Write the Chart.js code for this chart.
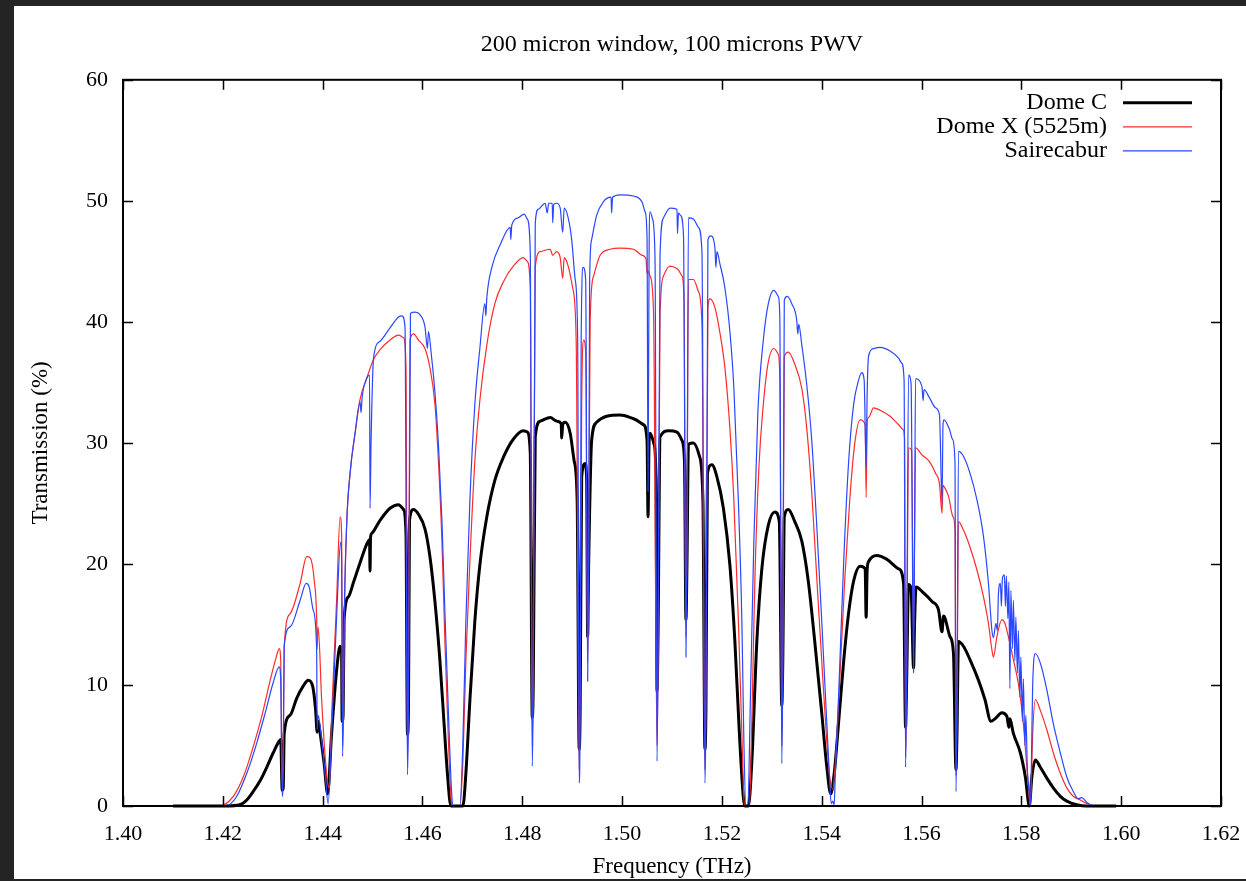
<!DOCTYPE html>
<html>
<head>
<meta charset="utf-8">
<script src="https://cdn.jsdelivr.net/npm/chart.js@4.4.1/dist/chart.umd.min.js"></script>
<style>
  html, body { margin: 0; padding: 0; background: #242424; }
  #sheet { position: absolute; left: 14px; top: 6px; width: 1232px; height: 873px; background: #fff; }
  canvas { display: block; }
</style>
</head>
<body>
<div id="sheet"><canvas id="chart" width="1232" height="873"></canvas></div>
<script>
// values: frequency (THz) and transmission (%)
let domeCFreq = [
  1.4100,1.4208,1.4234,1.4248,1.4261,1.4275,1.4288,1.4301,1.4312,1.4316,
  1.4319,1.4321,1.4323,1.4335,1.4348,1.4361,1.4371,1.4380,1.4386,1.4389,
  1.4391,1.4395,1.4403,1.4410,1.4418,1.4428,1.4435,1.4438,1.4439,1.4441,
  1.4443,1.4452,1.4462,1.4475,1.4488,1.4494,1.4495,1.4496,1.4498,1.4515,
  1.4535,1.4552,1.4562,1.4567,1.4570,1.4572,1.4574,1.4582,1.4592,1.4605,
  1.4615,1.4625,1.4635,1.4643,1.4650,1.4657,1.4681,1.4687,1.4695,1.4705,
  1.4715,1.4729,1.4745,1.4762,1.4782,1.4802,1.4810,1.4816,1.4820,1.4822,
  1.4826,1.4836,1.4856,1.4869,1.4878,1.4879,1.4881,1.4886,1.4896,1.4904,
  1.4910,1.4914,1.4916,1.4919,1.4926,1.4929,1.4931,1.4933,1.4939,1.4949,
  1.4969,1.4996,1.5023,1.5043,1.5050,1.5052,1.5054,1.5056,1.5064,1.5068,
  1.5070,1.5072,1.5076,1.5093,1.5110,1.5120,1.5125,1.5128,1.5130,1.5133,
  1.5143,1.5155,1.5162,1.5166,1.5168,1.5171,1.5180,1.5190,1.5203,1.5216,
  1.5226,1.5235,1.5243,1.5246,1.5253,1.5260,1.5270,1.5280,1.5293,1.5306,
  1.5315,1.5320,1.5322,1.5325,1.5333,1.5346,1.5360,1.5373,1.5386,1.5400,
  1.5410,1.5418,1.5425,1.5434,1.5444,1.5454,1.5464,1.5477,1.5487,1.5489,
  1.5491,1.5494,1.5510,1.5530,1.5554,1.5564,1.5568,1.5570,1.5574,1.5579,
  1.5584,1.5586,1.5589,1.5604,1.5621,1.5634,1.5641,1.5644,1.5657,1.5664,
  1.5669,1.5671,1.5674,1.5684,1.5697,1.5714,1.5727,1.5739,1.5747,1.5761,
  1.5771,1.5775,1.5777,1.5784,1.5798,1.5808,1.5816,1.5821,1.5828,1.5838,
  1.5851,1.5864,1.5878,1.5891,1.5911,1.5931,1.5990
];
let domeCTrans = [
  0,0,0.1,0.5,1.2,2.1,3.2,4.4,5.3,5.5,
  1.3,1.5,6.0,7.5,8.9,9.9,10.4,9.9,7.9,6.1,
  7.0,6.0,3.5,1.0,6.0,11.2,13.2,12.8,7.0,7.5,
  15.4,17.3,18.5,20.1,21.6,22.0,19.4,22.2,22.5,23.6,
  24.6,24.9,24.5,22.5,5.9,8.0,23.6,24.5,24.1,22.9,
  20.6,16.9,12.0,7.0,2.7,0,0,2.7,8.7,15.3,
  19.9,23.9,26.9,28.8,30.3,31.0,30.9,29.2,7.3,10.0,
  30.5,31.8,32.1,31.8,31.6,30.4,31.5,31.7,30.8,28.5,
  25.2,4.7,8.0,27.2,28.3,27.0,14.0,20.0,30.2,31.7,
  32.2,32.3,32.0,31.5,30.2,23.9,30.0,30.8,29.9,27.0,
  9.5,14.0,30.5,31.0,30.9,30.2,28.5,15.4,20.0,29.9,
  30.0,28.9,25.2,4.7,8.0,27.5,28.2,27.2,24.6,19.9,
  13.6,6.0,0.7,0,0,3.7,13.6,19.6,23.2,24.3,
  23.5,8.3,12.0,23.9,24.5,23.5,21.9,18.6,13.6,7.7,
  3.3,1.0,2.7,7.0,12.0,16.0,18.6,19.8,19.6,15.6,
  19.5,20.2,20.7,20.4,19.6,18.4,6.5,10.0,18.3,18.0,
  11.4,15.0,18.1,17.6,16.9,16.2,14.4,15.7,14.0,12.6,
  3.0,6.0,13.6,13.2,12.1,10.4,8.8,7.0,7.2,7.7,
  7.4,6.5,7.2,6.0,4.4,2.4,0,2.4,3.8,3.2,
  2.3,1.5,0.8,0.4,0.1,0,0
];

let domeXFreq = [
  1.4195,1.4201,1.4221,1.4241,1.4261,1.4278,1.4295,1.4307,1.4313,1.4316,
  1.4319,1.4321,1.4323,1.4335,1.4355,1.4368,1.4375,1.4383,1.4388,1.4389,
  1.4391,1.4398,1.4405,1.4410,1.4413,1.4418,1.4428,1.4435,1.4438,1.4440,
  1.4442,1.4443,1.4448,1.4455,1.4465,1.4475,1.4488,1.4502,1.4515,1.4535,
  1.4552,1.4562,1.4567,1.4570,1.4572,1.4575,1.4582,1.4592,1.4605,1.4615,
  1.4625,1.4632,1.4639,1.4645,1.4652,1.4657,1.4660,1.4675,1.4681,1.4687,
  1.4695,1.4705,1.4715,1.4729,1.4745,1.4762,1.4782,1.4802,1.4810,1.4816,
  1.4820,1.4822,1.4826,1.4836,1.4856,1.4861,1.4869,1.4876,1.4881,1.4884,
  1.4892,1.4901,1.4908,1.4914,1.4916,1.4919,1.4923,1.4927,1.4931,1.4933,
  1.4936,1.4943,1.4956,1.4976,1.4996,1.5023,1.5040,1.5048,1.5050,1.5052,
  1.5056,1.5063,1.5070,1.5072,1.5076,1.5083,1.5096,1.5110,1.5120,1.5124,
  1.5128,1.5130,1.5133,1.5143,1.5153,1.5160,1.5166,1.5168,1.5172,1.5176,
  1.5186,1.5196,1.5206,1.5216,1.5224,1.5233,1.5240,1.5245,1.5255,1.5260,
  1.5266,1.5274,1.5283,1.5293,1.5304,1.5313,1.5316,1.5320,1.5322,1.5325,
  1.5333,1.5346,1.5360,1.5370,1.5380,1.5390,1.5400,1.5410,1.5416,1.5422,
  1.5428,1.5436,1.5446,1.5456,1.5466,1.5477,1.5487,1.5489,1.5491,1.5494,
  1.5504,1.5517,1.5537,1.5554,1.5563,1.5566,1.5568,1.5570,1.5574,1.5580,
  1.5584,1.5586,1.5588,1.5601,1.5615,1.5628,1.5636,1.5641,1.5643,1.5645,
  1.5654,1.5663,1.5667,1.5669,1.5671,1.5674,1.5684,1.5697,1.5711,1.5724,
  1.5734,1.5741,1.5744,1.5751,1.5761,1.5767,1.5774,1.5784,1.5794,1.5804,
  1.5812,1.5818,1.5823,1.5828,1.5838,1.5851,1.5864,1.5878,1.5891,1.5904,
  1.5918,1.5931,1.5945,1.5960
];
let domeXTrans = [
  0,0.05,0.8,2.4,4.9,7.4,10.4,12.3,13.0,12.0,
  1.5,4.0,13.2,15.9,18.4,20.6,20.5,18.7,15.5,13.0,
  14.8,8.8,4.1,1.9,1.5,7.4,17.0,23.9,22.5,5.0,
  10.0,14.3,23.1,27.5,30.8,33.6,35.3,36.9,37.7,38.5,
  38.9,38.7,36.3,4.0,10.0,38.5,39.0,38.5,37.8,36.2,
  33.2,28.5,21.9,13.6,5.4,0.7,0,0,3.7,12.0,
  20.2,28.5,33.5,38.1,41.5,43.3,44.6,45.3,45.0,42.8,
  5.0,12.0,44.5,45.8,46.0,45.5,45.8,45.3,43.6,45.3,
  44.6,42.8,38.5,3.0,10.0,33.0,38.5,37.6,12.0,20.0,
  40.1,43.8,45.5,46.0,46.1,46.0,45.5,45.2,44.0,44.2,
  43.8,40.8,5.0,12.0,40.5,43.8,44.6,44.4,43.8,42.0,
  14.0,22.0,43.5,43.5,42.5,39.8,3.0,10.0,41.2,41.9,
  41.2,39.1,36.2,31.2,25.2,15.3,6.0,0,0,7.0,
  18.6,27.9,33.2,36.7,37.8,37.3,35.2,5.0,12.0,37.1,
  37.5,36.5,34.5,31.2,25.9,18.9,12.0,5.4,2.4,1.4,
  4.0,10.3,18.6,25.2,29.9,31.9,31.5,25.5,31.8,32.1,
  32.9,32.7,32.2,31.5,31.1,30.3,4.0,10.0,29.6,29.4,
  14.0,22.0,29.6,29.0,28.5,27.5,26.6,24.2,26.5,26.4,
  25.6,23.9,22.8,2.5,8.0,23.5,22.8,21.4,19.5,17.3,
  15.1,12.9,12.3,14.0,15.4,15.1,14.0,12.1,10.1,6.8,
  2.7,0,6.3,8.8,7.9,6.3,4.4,2.7,1.5,0.8,
  0.5,0.2,0,0
];

let saireFreq = [
  1.4205,1.4211,1.4228,1.4248,1.4268,1.4285,1.4301,1.4313,1.4316,1.4319,
  1.4321,1.4323,1.4335,1.4355,1.4367,1.4373,1.4381,1.4388,1.4389,1.4391,
  1.4398,1.4405,1.4411,1.4418,1.4428,1.4436,1.4438,1.4440,1.4442,1.4443,
  1.4448,1.4455,1.4465,1.4475,1.4477,1.4479,1.4488,1.4494,1.4495,1.4497,
  1.4502,1.4515,1.4535,1.4552,1.4559,1.4565,1.4570,1.4572,1.4576,1.4585,
  1.4595,1.4605,1.4610,1.4612,1.4618,1.4625,1.4632,1.4639,1.4645,1.4652,
  1.4659,1.4662,1.4675,1.4681,1.4687,1.4695,1.4705,1.4715,1.4725,1.4727,
  1.4729,1.4739,1.4756,1.4776,1.4777,1.4779,1.4792,1.4804,1.4810,1.4816,
  1.4820,1.4822,1.4826,1.4832,1.4846,1.4850,1.4853,1.4860,1.4861,1.4863,
  1.4869,1.4876,1.4881,1.4884,1.4892,1.4899,1.4906,1.4911,1.4914,1.4916,
  1.4918,1.4922,1.4927,1.4931,1.4933,1.4935,1.4939,1.4949,1.4962,1.4978,
  1.4979,1.4981,1.4996,1.5023,1.5040,1.5046,1.5050,1.5052,1.5054,1.5056,
  1.5061,1.5066,1.5070,1.5072,1.5076,1.5083,1.5096,1.5110,1.5111,1.5113,
  1.5117,1.5123,1.5128,1.5130,1.5133,1.5143,1.5153,1.5160,1.5166,1.5168,
  1.5172,1.5178,1.5186,1.5188,1.5190,1.5196,1.5206,1.5216,1.5224,1.5233,
  1.5240,1.5244,1.5248,1.5252,1.5257,1.5264,1.5272,1.5283,1.5293,1.5304,
  1.5313,1.5316,1.5320,1.5322,1.5325,1.5331,1.5340,1.5350,1.5352,1.5354,
  1.5360,1.5370,1.5380,1.5390,1.5400,1.5410,1.5416,1.5419,1.5422,1.5425,
  1.5427,1.5434,1.5444,1.5454,1.5464,1.5474,1.5480,1.5485,1.5489,1.5491,
  1.5494,1.5504,1.5517,1.5537,1.5554,1.5560,1.5565,1.5568,1.5570,1.5574,
  1.5579,1.5584,1.5586,1.5588,1.5601,1.5603,1.5605,1.5615,1.5628,1.5636,
  1.5641,1.5643,1.5645,1.5656,1.5662,1.5667,1.5669,1.5671,1.5674,1.5684,
  1.5697,1.5711,1.5724,1.5734,1.5741,1.5744,1.5749,1.5752,1.5754,1.5758,
  1.5760,1.5762,1.5766,1.5768,1.5770,1.5773,1.5775,1.5777,1.5779,1.5782,
  1.5784,1.5787,1.5789,1.5792,1.5794,1.5797,1.5799,1.5802,1.5804,1.5807,
  1.5809,1.5812,1.5815,1.5818,1.5823,1.5828,1.5838,1.5851,1.5864,1.5878,
  1.5891,1.5904,1.5914,1.5921,1.5931,1.5945,1.5955
];
let saireTrans = [
  0,0.05,0.8,2.7,5.2,7.7,10.2,11.5,10.4,0.8,
  3.0,13.2,14.8,17.0,18.4,18.1,16.2,12.9,6.3,7.5,
  5.5,2.7,0.2,6.0,15.6,21.8,20.5,4.1,9.0,14.3,
  23.1,27.5,30.8,33.4,32.5,33.7,35.3,35.6,24.6,30.0,
  37.0,38.4,39.5,40.4,40.5,39.6,2.6,8.0,40.7,40.8,
  40.6,39.6,37.8,39.2,37.2,34.2,29.9,23.6,16.0,7.7,
  0.7,0,0,5.3,15.3,25.2,33.2,37.8,41.5,40.5,
  42.0,44.5,46.4,47.8,46.8,48.0,48.6,48.9,48.5,45.8,
  3.3,10.0,48.1,49.3,49.8,49.0,49.8,49.8,48.2,49.7,
  49.8,49.4,47.4,49.4,48.6,46.8,43.5,38.5,1.9,8.0,
  38.5,44.5,43.5,10.3,20.0,43.5,46.8,48.8,49.9,50.3,
  49.0,50.3,50.5,50.4,49.9,49.1,47.0,26.0,45.0,49.1,
  48.5,45.2,3.7,12.0,45.5,48.6,49.4,49.3,47.3,49.0,
  48.8,47.2,12.3,22.0,48.6,48.5,47.8,45.8,1.9,8.0,
  46.8,47.1,46.1,44.5,45.8,44.8,42.8,39.2,34.5,25.2,
  15.3,5.4,0,0,8.7,21.9,32.5,38.5,41.5,42.6,
  42.1,40.4,3.5,12.0,41.8,42.1,41.5,40.1,39.0,39.8,
  38.1,34.8,30.2,23.2,15.3,7.0,2.0,0.2,0.4,0.1,
  2.4,9.3,20.2,28.5,33.2,35.2,35.8,35.2,28.0,34.0,
  37.2,37.8,37.9,37.6,37.0,36.6,35.2,3.2,10.0,35.6,
  34.9,11.0,22.0,35.3,34.6,33.5,34.4,33.8,32.9,32.3,
  25.0,31.5,31.9,31.1,30.3,28.4,1.2,8.0,29.3,28.9,
  27.5,25.3,22.3,18.4,14.5,13.9,15.1,14.5,17.5,18.4,
  16.5,18.8,19.1,16.5,19.0,15.5,18.5,9.7,17.8,13.0,
  17.0,12.0,15.6,11.0,14.5,9.0,12.3,7.0,10.5,5.0,
  7.5,3.0,1.5,0,10.4,12.6,11.8,9.6,6.8,4.4,
  2.4,1.2,0.6,0.7,0.3,0,0
];

let labels = ["Dome C", "Dome X (5525m)", "Sairecabur"];
let colors = ["#000000", "#ff2a2a", "#2a46ff"];
let widths = [3, 1.2, 1.2];

const font = "Liberation Serif, Times New Roman, serif";

function toPoints(xs, ys) {
    return xs.map((x, i) => ({ x: x, y: ys[i] }));
}

// gnuplot style frame, inward ticks and the legend inside the plot
const framePlugin = {
    id: "frame",
    afterDatasetsDraw(chart) {
        const { ctx, chartArea: a, scales: { x, y } } = chart;
        ctx.save();
        ctx.strokeStyle = "#000";
        ctx.lineWidth = 1.5;
        ctx.beginPath();
        x.ticks.forEach(t => {
            const px = Math.round(x.getPixelForValue(t.value)) + 0.5;
            ctx.moveTo(px, a.bottom); ctx.lineTo(px, a.bottom - 10);
            ctx.moveTo(px, a.top); ctx.lineTo(px, a.top + 10);
        });
        y.ticks.forEach(t => {
            const py = Math.round(y.getPixelForValue(t.value)) + 0.5;
            ctx.moveTo(a.left, py); ctx.lineTo(a.left + 10, py);
            ctx.moveTo(a.right, py); ctx.lineTo(a.right - 10, py);
        });
        ctx.stroke();
        ctx.lineWidth = 2;
        ctx.strokeRect(a.left, a.top, a.right - a.left, a.bottom - a.top);

        ctx.font = "24px " + font;
        ctx.fillStyle = "#000";
        ctx.textAlign = "right";
        ctx.textBaseline = "middle";
        chart.data.datasets.forEach((ds, i) => {
            const ly = a.top + 23 + i * 24;
            ctx.fillText(ds.label, a.right - 114, ly);
            ctx.strokeStyle = ds.borderColor;
            ctx.lineWidth = ds.borderWidth;
            ctx.beginPath();
            ctx.moveTo(a.right - 98, ly);
            ctx.lineTo(a.right - 29, ly);
            ctx.stroke();
        });
        ctx.restore();
    }
};

const series = [
    toPoints(domeCFreq, domeCTrans),
    toPoints(domeXFreq, domeXTrans),
    toPoints(saireFreq, saireTrans)
];

new Chart(document.getElementById("chart"), {
    type: "line",
    data: {
        datasets: series.map((pts, i) => ({
            label: labels[i],
            data: pts,
            borderColor: colors[i],
            borderWidth: widths[i],
            pointRadius: 0,
            cubicInterpolationMode: "monotone",
            borderJoinStyle: "round",
            clip: 6,
            order: 2 - i
        }))
    },
    options: {
        responsive: false,
        animation: false,
        devicePixelRatio: 1,
        layout: { padding: { left: 0, right: 25, top: 0, bottom: 0 } },
        plugins: {
            legend: { display: false },
            tooltip: { enabled: false },
            title: {
                display: true,
                fullSize: false,
                text: "200 micron window, 100 microns PWV",
                color: "#000",
                font: { family: font, size: 24, weight: "normal", lineHeight: 1.2 },
                padding: { top: 24, bottom: 21 }
            }
        },
        scales: {
            x: {
                type: "linear",
                min: 1.40,
                max: 1.62,
                afterFit: s => { s.height = 73; s.paddingLeft = 0; s.paddingRight = 0; },
                grid: { display: false, drawTicks: false },
                border: { display: false },
                ticks: {
                    stepSize: 0.02,
                    autoSkip: false,
                    maxRotation: 0,
                    padding: 15,
                    color: "#000",
                    font: { family: font, size: 22 },
                    callback: v => v.toFixed(2)
                },
                title: {
                    display: true,
                    text: "Frequency (THz)",
                    color: "#000",
                    font: { family: font, size: 23, lineHeight: 1.2 },
                    padding: { top: 0, bottom: -2 }
                }
            },
            y: {
                min: 0,
                max: 60,
                afterFit: s => { s.width = 109; },
                grid: { display: false, drawTicks: false },
                border: { display: false },
                ticks: {
                    stepSize: 10,
                    padding: 15,
                    color: "#000",
                    font: { family: font, size: 22 }
                },
                title: {
                    display: true,
                    text: "Transmission (%)",
                    color: "#000",
                    font: { family: font, size: 23, lineHeight: 1.2 },
                    padding: { top: 13, bottom: 0 }
                }
            }
        }
    },
    plugins: [framePlugin]
});
</script>
</body>
</html>
